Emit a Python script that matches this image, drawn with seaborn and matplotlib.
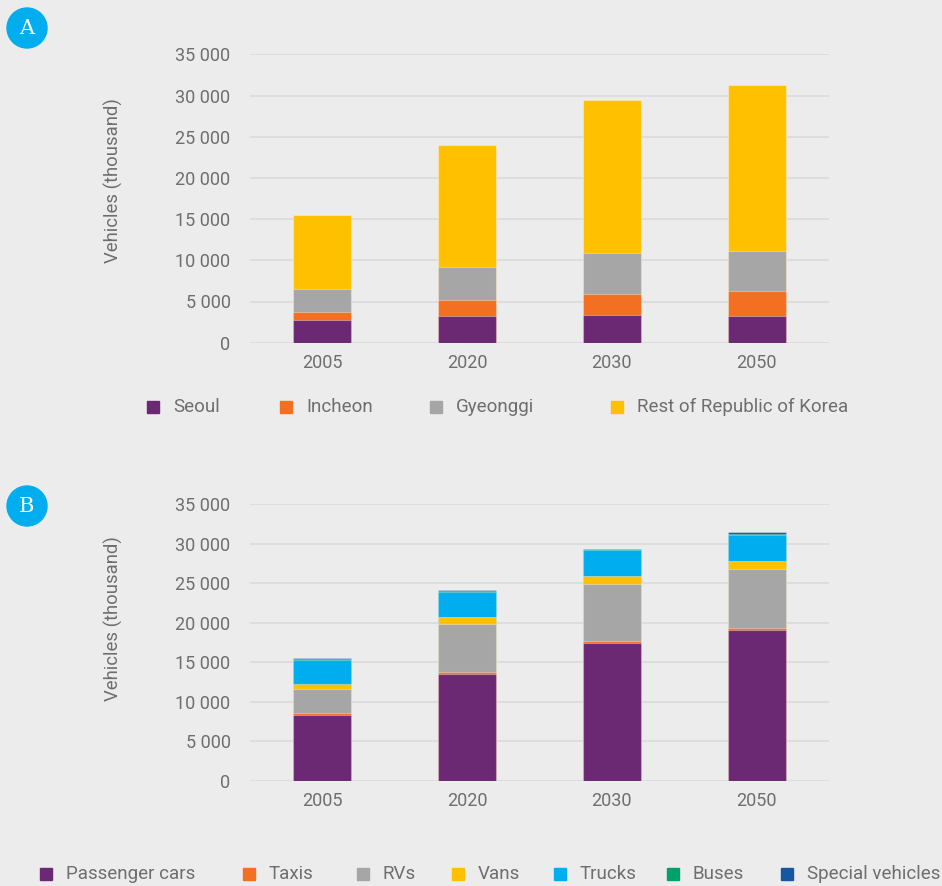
import pandas as pd
import matplotlib
matplotlib.use("Agg")
import matplotlib.pyplot as plt
from matplotlib.patches import Rectangle, Ellipse
from matplotlib.ticker import FuncFormatter
import seaborn as sns

# data (thousand vehicles)
years = ['2005', '2020', '2030', '2050']

seoul = [2760, 3200, 3400, 3200]
incheon = [930, 1950, 2550, 3050]
gyeonggi = [2800, 4050, 4900, 4900]
rest_of_korea = [9000, 14800, 18650, 20100]

passenger_cars = [8400, 13550, 17500, 19100]
taxis = [250, 220, 250, 210]
rvs = [3000, 6130, 7130, 7470]
vans = [600, 790, 1050, 970]
trucks = [3100, 3190, 3230, 3360]
buses = [110, 110, 110, 160]
special_vehicles = [90, 100, 100, 140]

region_labels = ['Seoul', 'Incheon', 'Gyeonggi', 'Rest of Republic of Korea']
type_labels = ['Passenger cars', 'Taxis', 'RVs', 'Vans', 'Trucks', 'Buses', 'Special vehicles']

region_colors = ['#6B2873', '#F36F21', '#A6A6A6', '#FFC000']
type_colors = ['#6B2873', '#F36F21', '#A6A6A6', '#FFC000', '#00AEEF', '#00A26B', '#1557A0']

BG = '#ECECEC'
GRID = '#DADADA'
TXT = '#6E6E6E'
W, H = 942, 886

sns.set_theme(style='whitegrid')
plt.rcParams['font.family'] = ['Roboto', 'DejaVu Sans']


def stacked_bars(ax, series, labels, colors):
    df = pd.DataFrame(dict(zip(labels, series)), index=years)
    cum = df.cumsum(axis=1)
    # draw from the tallest cumulative layer down so the lower ones sit on top
    for label, color in zip(reversed(labels), reversed(colors)):
        sns.barplot(x=years, y=cum[label].values, color=color, width=0.4,
                    saturation=1, edgecolor=(1, 1, 1, 0.35), linewidth=0.8, ax=ax)


def style_axis(ax, label_y):
    ax.set_facecolor(BG)
    ax.set_xlim(-0.5, 3.5)
    ax.set_ylim(0, 35000)
    ax.set_yticks(range(0, 35001, 5000))
    ax.yaxis.set_major_formatter(FuncFormatter(lambda v, p: f'{v:,.0f}'.replace(',', ' ')))
    ax.grid(axis='y', color=GRID, linewidth=1.2)
    ax.grid(axis='x', visible=False)
    ax.set_axisbelow(True)
    for s in ax.spines.values():
        s.set_visible(False)
    ax.tick_params(axis='y', length=0, pad=14, labelsize=13, labelcolor=TXT)
    ax.tick_params(axis='x', length=0, pad=8, labelsize=13, labelcolor=TXT)
    ax.set_ylabel('Vehicles (thousand)', fontsize=13.3, color=TXT)
    ax.yaxis.set_label_coords(-0.22, label_y)


def draw_legend(fig, labels, colors, xs, y):
    for label, color, x in zip(labels, colors, xs):
        fig.patches.append(Rectangle((x / W, 1 - (y + 6) / H), 12 / W, 12 / H,
                                     transform=fig.transFigure, color=color))
        fig.text((x + 26) / W, 1 - y / H, label, va='center', ha='left',
                 fontsize=13.5, color=TXT)


def draw_badge(fig, letter, cx, cy):
    fig.patches.append(Ellipse((cx / W, 1 - cy / H), 40 / W, 40 / H,
                               transform=fig.transFigure, color='#00AEEF'))
    fig.text(cx / W, 1 - cy / H, letter, ha='center', va='center', color='white',
             fontsize=15, family=['DejaVu Serif'])


fig = plt.figure(figsize=(W / 100, H / 100), dpi=100, facecolor=BG)

ax_a = fig.add_axes([250 / W, 1 - 342.7 / H, 579 / W, 288.4 / H])
stacked_bars(ax_a, [seoul, incheon, gyeonggi, rest_of_korea], region_labels, region_colors)
style_axis(ax_a, 0.561)

ax_b = fig.add_axes([250 / W, 1 - 781 / H, 579 / W, 277 / H])
stacked_bars(ax_b, [passenger_cars, taxis, rvs, vans, trucks, buses, special_vehicles],
             type_labels, type_colors)
style_axis(ax_b, 0.585)

draw_legend(fig, region_labels, region_colors, [147, 280, 430, 611], 407)
draw_legend(fig, type_labels, type_colors, [40, 243, 357, 452, 554, 667, 781], 874)

draw_badge(fig, 'A', 27, 28)
draw_badge(fig, 'B', 27, 506)

fig.savefig('out.png', dpi=100, facecolor=BG)
